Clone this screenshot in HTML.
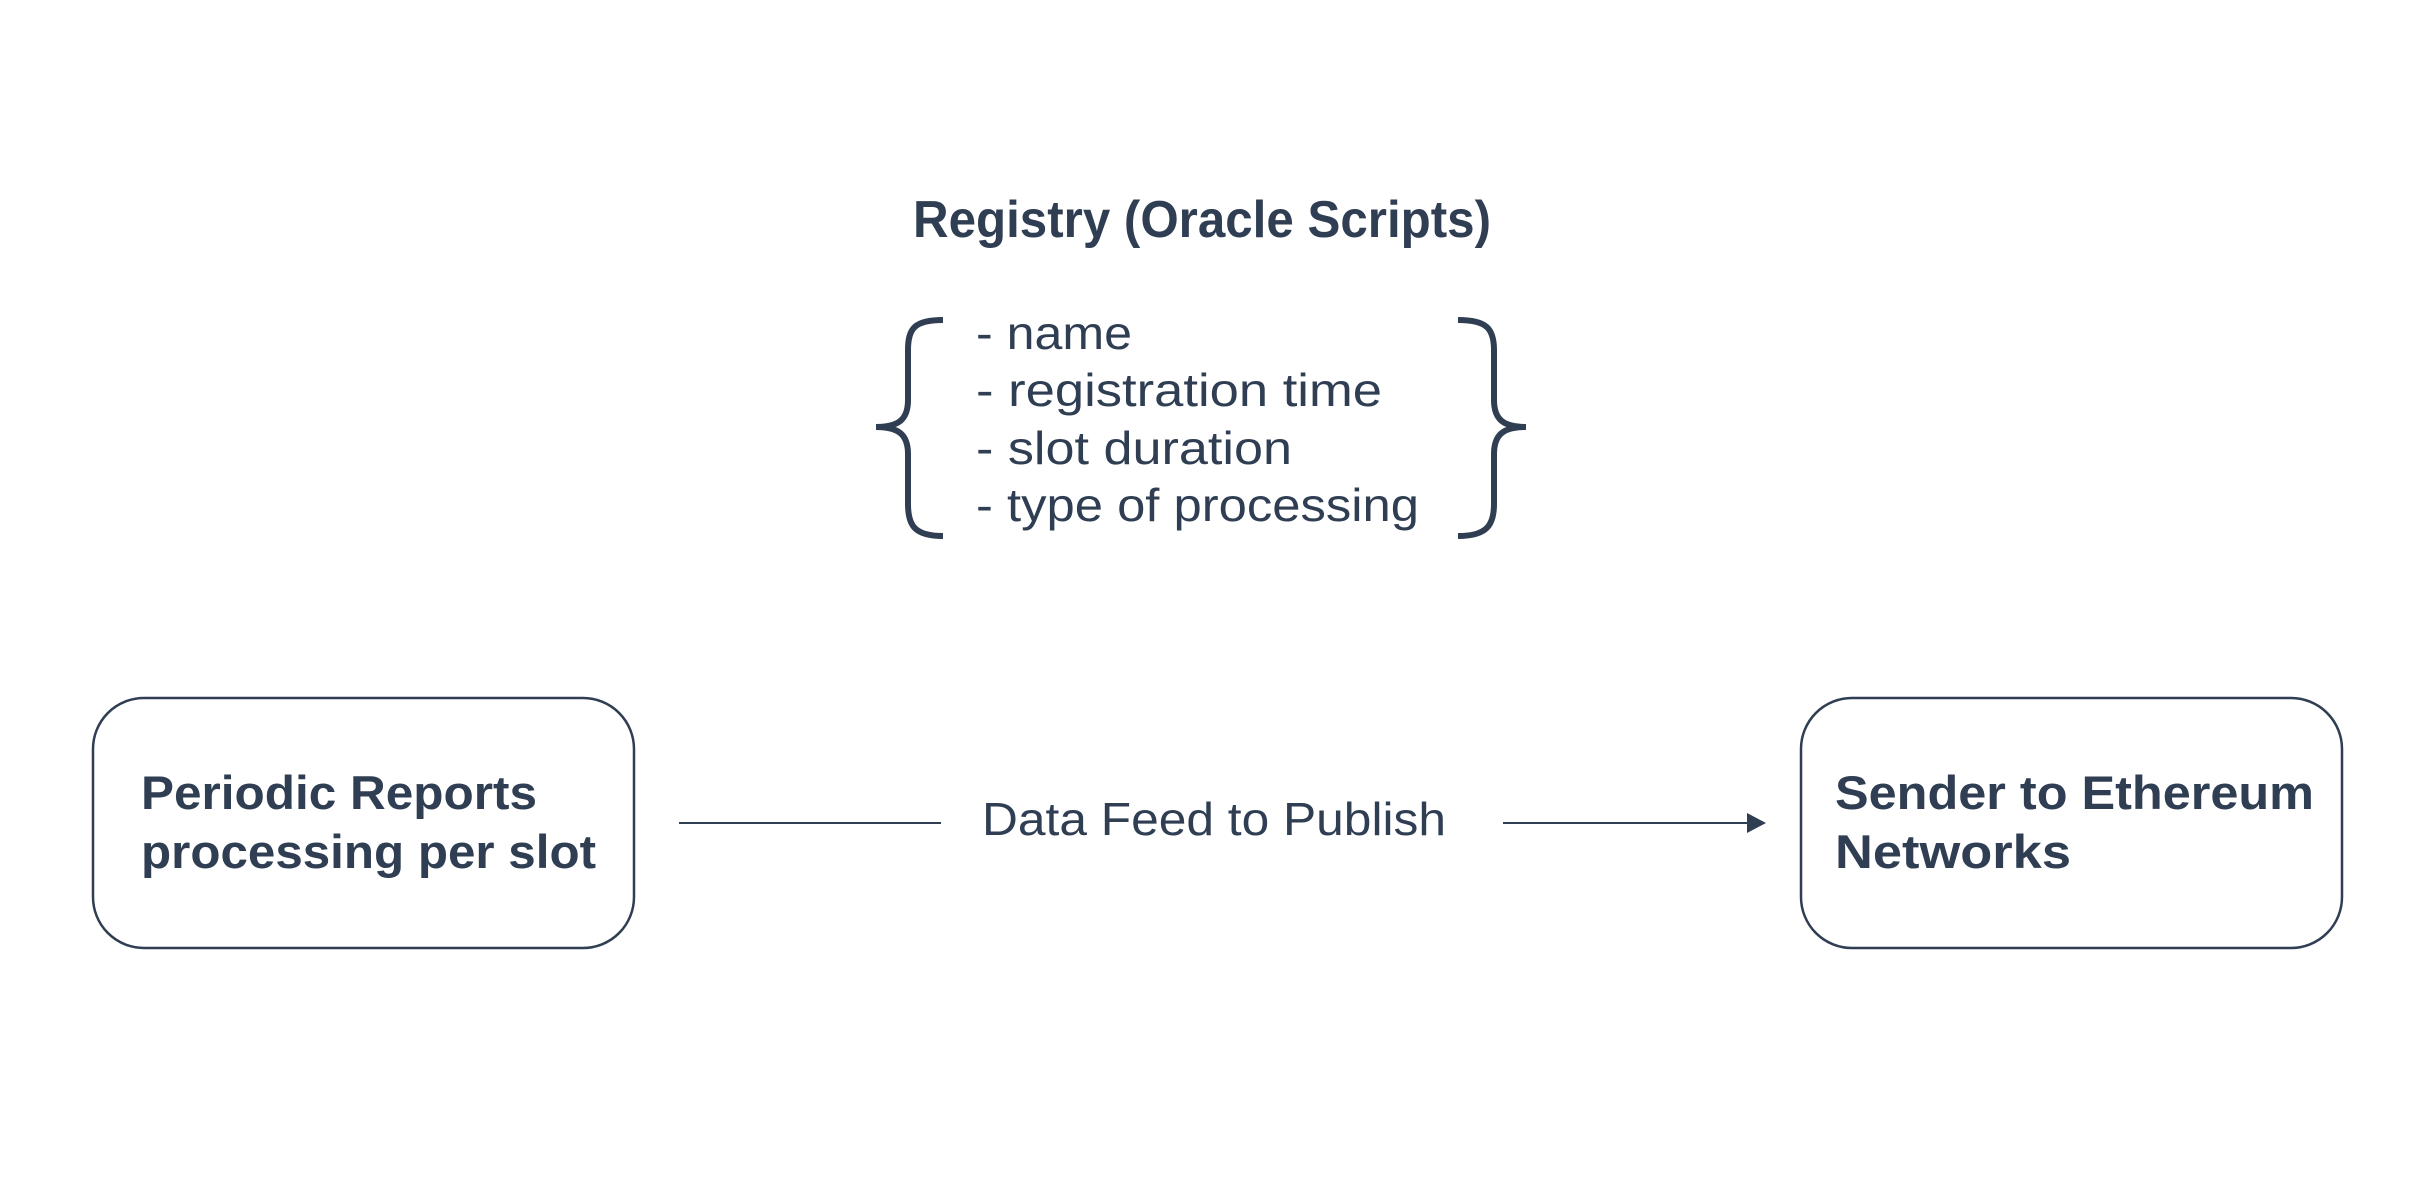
<!DOCTYPE html>
<html><head><meta charset="utf-8"><style>html,body{margin:0;padding:0;background:#fff}svg{display:block}</style></head>
<body>
<svg width="2432" height="1184" viewBox="0 0 2432 1184" xmlns="http://www.w3.org/2000/svg" font-family="'Liberation Sans', sans-serif" fill="#2f3e52">
<rect width="2432" height="1184" fill="#fff"/>
<text x="913" y="237" font-size="52" font-weight="bold" textLength="578" lengthAdjust="spacingAndGlyphs">Registry (Oracle Scripts)</text>
<g font-size="46">
<text x="976" y="349" textLength="156" lengthAdjust="spacingAndGlyphs">- name</text>
<text x="976" y="406" textLength="406" lengthAdjust="spacingAndGlyphs">- registration time</text>
<text x="976" y="464" textLength="316" lengthAdjust="spacingAndGlyphs">- slot duration</text>
<text x="976" y="521" textLength="443" lengthAdjust="spacingAndGlyphs">- type of processing</text>
</g>
<g fill="none" stroke="#2f3e52" stroke-width="6">
<path d="M943 320 C915 320 908 328 908 350 L908 400 C908 420 898 427 876 427 C898 427 908 434 908 454 L908 504 C908 526 915 536 943 536"/>
<path d="M1458 320 C1486 320 1494 328 1494 350 L1494 400 C1494 420 1504 427 1526 427 C1504 427 1494 434 1494 454 L1494 504 C1494 526 1486 536 1458 536"/>
</g>
<rect x="93" y="698" width="541" height="250" rx="51" fill="none" stroke="#2f3e52" stroke-width="2.5"/>
<rect x="1801" y="698" width="541" height="250" rx="51" fill="none" stroke="#2f3e52" stroke-width="2.5"/>
<g font-size="47" font-weight="bold">
<text x="141" y="809" textLength="396" lengthAdjust="spacingAndGlyphs">Periodic Reports</text>
<text x="141" y="868" textLength="455" lengthAdjust="spacingAndGlyphs">processing per slot</text>
<text x="1835" y="809" textLength="479" lengthAdjust="spacingAndGlyphs">Sender to Ethereum</text>
<text x="1835" y="868" textLength="236" lengthAdjust="spacingAndGlyphs">Networks</text>
</g>
<line x1="679" y1="823" x2="941" y2="823" stroke="#2f3e52" stroke-width="2"/>
<line x1="1503" y1="823" x2="1750" y2="823" stroke="#2f3e52" stroke-width="2"/>
<polygon points="1747,813 1766,823 1747,833" fill="#2f3e52"/>
<text x="982" y="835" font-size="46" textLength="464" lengthAdjust="spacingAndGlyphs">Data Feed to Publish</text>
</svg>
</body></html>
